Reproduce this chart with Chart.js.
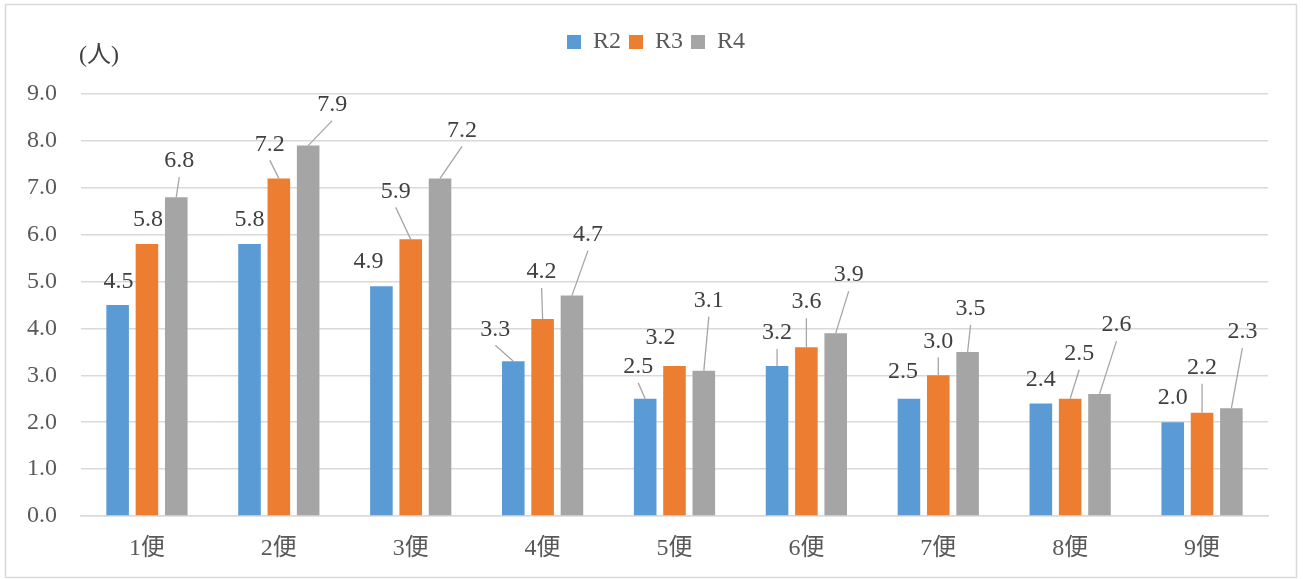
<!DOCTYPE html>
<html>
<head>
<meta charset="utf-8">
<script src="https://cdn.jsdelivr.net/npm/chart.js@4.4.1/dist/chart.umd.min.js"></script>
<style>
  html, body { margin: 0; padding: 0; background: #fff; }
  #wrap { width: 1303px; height: 579px; }
</style>
</head>
<body>
<div id="wrap"><canvas id="chart"></canvas></div>
<script>
// data
const categories = ['1便', '2便', '3便', '4便', '5便', '6便', '7便', '8便', '9便'];
const seriesNames = ['R2', 'R3', 'R4'];
const r2Values = [4.5, 5.8, 4.9, 3.3, 2.5, 3.2, 2.5, 2.4, 2.0];
const r3Values = [5.8, 7.2, 5.9, 4.2, 3.2, 3.6, 3.0, 2.5, 2.2];
const r4Values = [6.8, 7.9, 7.2, 4.7, 3.1, 3.9, 3.5, 2.6, 2.3];
const yTicks = [0, 1, 2, 3, 4, 5, 6, 7, 8, 9];

const colors = ['#5b9bd5', '#ed7d31', '#a5a5a5'];
const serif = "'Liberation Serif', 'Noto Sans CJK JP', serif";

// label placement (px from the bar top), as moved by hand in the original
const labelOffsets = [
    [[1, -23], [0, -24], [-13, -25], [-18, -32], [-7, -32], [0, -33], [-6, -27], [0, -24], [0, -25]],
    [[1, -24], [-9, -34], [-15, -48], [-1, -47], [-14, -28], [0, -45], [0, -34], [9, -45], [0, -45]],
    [[3, -36], [24, -41], [22, -48], [16, -61], [5, -70], [13, -58], [3, -43], [17, -69], [11, -76]]
];

// frame and unit text
const framePlugin = {
    id: 'frame',
    beforeDraw(chart) {
        const ctx = chart.ctx;
        ctx.save();
        ctx.fillStyle = '#fff';
        ctx.fillRect(0, 0, chart.width, chart.height);
        ctx.strokeStyle = '#d9d9d9';
        ctx.lineWidth = 1.5;
        ctx.strokeRect(5.5, 4.5, 1291, 573);
        ctx.restore();
    },
    afterDraw(chart) {
        const ctx = chart.ctx;
        ctx.save();
        ctx.fillStyle = '#404040';
        ctx.font = '24px ' + serif;
        ctx.textAlign = 'center';
        ctx.textBaseline = 'middle';
        ctx.fillText('(人)', 99, 56);
        ctx.restore();
    }
};

// data labels with leader lines
const labelPlugin = {
    id: 'barLabels',
    afterDatasetsDraw(chart) {
        const ctx = chart.ctx;
        ctx.save();
        ctx.font = '24px ' + serif;
        ctx.textAlign = 'center';
        ctx.textBaseline = 'middle';
        chart.data.datasets.forEach((ds, di) => {
            const meta = chart.getDatasetMeta(di);
            meta.data.forEach((bar, i) => {
                const off = labelOffsets[di][i];
                const lx = bar.x + off[0];
                const ly = bar.y + off[1];
                if (off[1] <= -30) {
                    ctx.strokeStyle = '#a6a6a6';
                    ctx.lineWidth = 1.3;
                    ctx.beginPath();
                    ctx.moveTo(lx, ly + 16);
                    ctx.lineTo(bar.x, bar.y);
                    ctx.stroke();
                }
                ctx.fillStyle = '#404040';
                ctx.fillText(ds.data[i].toFixed(1), lx, ly);
            });
        });
        ctx.restore();
    }
};

// fixed legend height so the plot starts where it does in the original,
// and legend centred on the whole frame rather than the padded area
const legendPlacePlugin = {
    id: 'legendPlace',
    beforeInit(chart) {
        const fit = chart.legend.fit;
        chart.legend.fit = function () {
            fit.bind(chart.legend)();
            this.height = 72;
        };
    },
    afterLayout(chart) {
        chart.legend.left += 22;
        chart.legend.right += 22;
    }
};

const ctx = document.getElementById('chart');
new Chart(ctx, {
    type: 'bar',
    data: {
        labels: categories,
        datasets: [
            { label: seriesNames[0], data: r2Values, backgroundColor: colors[0] },
            { label: seriesNames[1], data: r3Values, backgroundColor: colors[1] },
            { label: seriesNames[2], data: r4Values, backgroundColor: colors[2] }
        ]
    },
    options: {
        responsive: true,
        maintainAspectRatio: false,
        animation: false,
        datasets: {
            bar: { categoryPercentage: 0.667, barPercentage: 0.77 }
        },
        layout: { padding: { top: 22, right: 35, bottom: 0, left: 0 } },
        scales: {
            x: {
                grid: { display: false, drawTicks: false },
                border: { color: '#d9d9d9', width: 1.5 },
                ticks: { color: '#595959', font: { size: 24, family: serif }, padding: 18 },
                afterFit(scale) { scale.height = 63; }
            },
            y: {
                min: 0,
                max: 9,
                afterBuildTicks(scale) { scale.ticks = yTicks.map(v => ({ value: v })); },
                grid: { color: '#d9d9d9', lineWidth: 1.5, drawTicks: false },
                border: { display: false },
                ticks: {
                    color: '#595959',
                    font: { size: 24, family: serif },
                    padding: 24,
                    callback: v => v.toFixed(1)
                },
                afterFit(scale) { scale.width = 81; }
            }
        },
        plugins: {
            legend: {
                position: 'top',
                labels: {
                    boxWidth: 14,
                    boxHeight: 14,
                    padding: 8,
                    color: '#595959',
                    font: { size: 24, family: serif }
                }
            },
            tooltip: { enabled: false }
        }
    },
    plugins: [framePlugin, labelPlugin, legendPlacePlugin]
});
</script>
</body>
</html>
